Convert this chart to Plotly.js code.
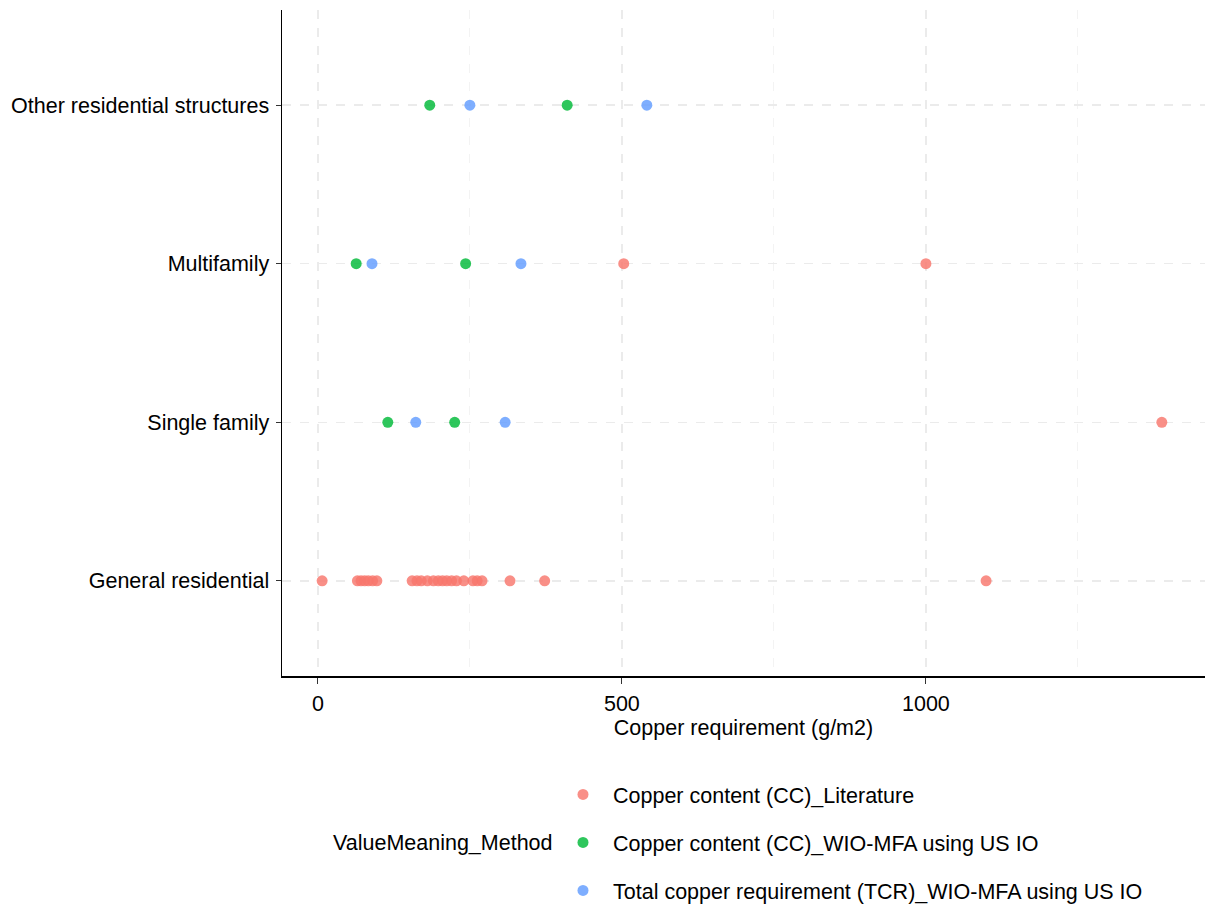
<!DOCTYPE html>
<html>
<head>
<meta charset="utf-8">
<script src="https://cdn.plot.ly/plotly-3.0.1.min.js"></script>
<style>html,body{margin:0;padding:0;background:#fff;}#chart{width:1206px;height:904px;}</style>
</head>
<body>
<div id="chart"></div>
<script>
const categories = ["General residential", "Single family", "Multifamily", "Other residential structures"];
const seriesNames = [
  "Copper content (CC)_Literature",
  "Copper content (CC)_WIO-MFA using US IO",
  "Total copper requirement (TCR)_WIO-MFA using US IO"
];
const seriesColors = ["#F8766D", "#00BA38", "#619CFF"];

// Copper content (CC)_Literature
const litX = [7, 65, 71, 77, 83, 90, 97, 155, 163, 170, 180, 190, 198, 205, 212, 220, 228, 240, 255, 262, 270, 316, 373, 1099,
              503, 1000,
              1388];
const litY = ["General residential","General residential","General residential","General residential","General residential",
              "General residential","General residential","General residential","General residential","General residential",
              "General residential","General residential","General residential","General residential","General residential",
              "General residential","General residential","General residential","General residential","General residential",
              "General residential","General residential","General residential","General residential",
              "Multifamily","Multifamily",
              "Single family"];

// Copper content (CC)_WIO-MFA using US IO
const wioCCX = [184, 410, 63, 243, 115, 225];
const wioCCY = ["Other residential structures","Other residential structures","Multifamily","Multifamily","Single family","Single family"];

// Total copper requirement (TCR)_WIO-MFA using US IO
const tcrX = [250, 541, 89, 334, 161, 308];
const tcrY = ["Other residential structures","Other residential structures","Multifamily","Multifamily","Single family","Single family"];

const xTicks = [0, 500, 1000];

const allX = [litX, wioCCX, tcrX];
const allY = [litY, wioCCY, tcrY];

const traces = seriesNames.map((name, i) => ({
  type: "scatter",
  mode: "markers",
  name: name,
  legendgroup: "g" + i,
  x: allX[i],
  y: allY[i],
  marker: {color: seriesColors[i], size: 11, opacity: 0.82, line: {width: 0}},
  hoverinfo: "x+y"
}));

const font = {family: "Liberation Sans, Arial, sans-serif", size: 21.5, color: "#000"};

const layout = {
  width: 1206, height: 904,
  paper_bgcolor: "#fff", plot_bgcolor: "#fff",
  margin: {l: 282, r: 1, t: 10, b: 228, autoexpand: false},
  font: font,
  showlegend: true,
  xaxis: {
    range: [-59, 1459],
    tickvals: xTicks,
    ticktext: xTicks.map(String),
    showline: true, linecolor: "#000", linewidth: 1.5,
    ticks: "outside", ticklen: 6, tickcolor: "#333", tickwidth: 1,
    ticklabelstandoff: 2,
    showgrid: true, gridcolor: "#ebebeb", gridwidth: 1.5, griddash: "dash",
    zeroline: false,
    automargin: false,
    minor: {tickvals: [250, 750, 1250], showgrid: true, gridcolor: "#f3f3f3", gridwidth: 1, griddash: "dash", ticks: ""},
    title: {text: "Copper requirement (g/m2)", font: font, standoff: 4},
    tickfont: font
  },
  yaxis: {
    type: "category",
    categoryorder: "array",
    categoryarray: categories,
    range: [-0.6, 3.6],
    showline: true, linecolor: "#000", linewidth: 1.5,
    ticks: "outside", ticklen: 5, tickcolor: "#333", tickwidth: 1,
    ticklabelstandoff: 2,
    showgrid: true, gridcolor: "#ebebeb", gridwidth: 1.5, griddash: "dash",
    zeroline: false,
    automargin: false,
    tickfont: font
  },
  legend: {
    orientation: "v",
    x: (553 - 282) / 923, xanchor: "left",
    y: (676 - 774) / 666, yanchor: "top",
    itemwidth: 50,
    tracegroupgap: 17,
    font: font,
    bgcolor: "rgba(0,0,0,0)"
  },
  annotations: [{
    text: "ValueMeaning_Method",
    xref: "paper", yref: "paper",
    x: (555 - 282) / 923, xanchor: "right",
    y: (676 - 843) / 666, yanchor: "middle",
    showarrow: false,
    font: font
  }]
};

Plotly.newPlot("chart", traces, layout, {displayModeBar: false, staticPlot: true});
</script>
</body>
</html>
